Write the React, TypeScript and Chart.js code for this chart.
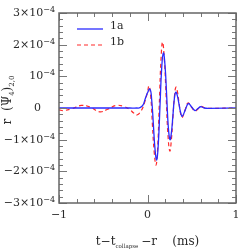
import React, { useEffect, useRef } from "react";
import { Chart, registerables } from "chart.js";

Chart.register(...registerables);

// values in units of 1e-4
const UNIT = 1e-4;
const seriesLabels = ["1a", "1b"];

const tA = [-1, -0.5, -0.2, -0.12, -0.085, -0.05, -0.028, 0, 0.028, 0.047, 0.066, 0.085, 0.104, 0.122, 0.141, 0.16, 0.179, 0.198, 0.217, 0.235, 0.254, 0.27, 0.287, 0.303, 0.319, 0.337, 0.356, 0.375, 0.393, 0.427, 0.461, 0.499, 0.537, 0.569, 0.601, 0.64, 0.7, 1];
const yA = [0, 0, 0, 0, 0.01, 0.1, 0.27, 0.48, 0.6, 0.27, -0.5, -1.3, -1.64, -1.14, 0.05, 1.24, 1.74, 1.34, 0.37, -0.6, -1.0, -0.78, -0.25, 0.28, 0.5, 0.39, 0.12, -0.15, -0.26, -0.06, 0.14, 0.03, -0.08, -0.02, 0.04, 0, -0.01, 0];

const tB = [-1, -0.95, -0.85, -0.75, -0.65, -0.54, -0.45, -0.355, -0.27, -0.2, -0.16, -0.12, -0.07, -0.03, 0, 0.017, 0.037, 0.056, 0.076, 0.096, 0.114, 0.133, 0.152, 0.17, 0.19, 0.21, 0.23, 0.252, 0.27, 0.287, 0.304, 0.321, 0.339, 0.357, 0.374, 0.391, 0.424, 0.458, 0.497, 0.536, 0.57, 0.604, 0.65, 0.72, 1];
const yB = [-0.06, -0.08, -0.02, 0.08, 0.03, -0.12, -0.04, 0.08, 0.05, -0.05, -0.15, -0.22, -0.08, 0.2, 0.5, 0.7, 0.35, -0.55, -1.4, -1.8, -1.3, 0.1, 1.5, 2.08, 1.55, 0.4, -0.8, -1.36, -1.0, -0.3, 0.35, 0.66, 0.5, 0.14, -0.18, -0.3, -0.07, 0.16, 0.03, -0.1, -0.03, 0.05, 0, -0.01, 0];

const xMinorStep = 0.2;
const yMinorStep = 0.2e-4;

const SERIF = "'DejaVu Serif', 'Liberation Serif', serif";
const TEXT = "#2a2a2a";

function yMantissa(v: number): string {
  const n = Math.round(v / UNIT);
  if (n === 0) return "0";
  if (n === 1) return "10";
  const s = n < 0 ? "\u2212" + Math.abs(n) : String(n);
  return s + "\u00D710";
}

const decoPlugin = {
  id: "deco",
  afterDraw(chart: any) {
    const { ctx, chartArea: a, scales } = chart;
    const xs = scales.x;
    const ys = scales.y;
    ctx.save();
    // ticks
    ctx.strokeStyle = "#777";
    ctx.lineWidth = 1;
    ctx.beginPath();
    for (let i = -5; i <= 5; i++) {
      const px = Math.round(xs.getPixelForValue(i * xMinorStep)) + 0.5;
      const len = i % 5 === 0 ? 8 : 4;
      ctx.moveTo(px, a.bottom);
      ctx.lineTo(px, a.bottom - len);
      ctx.moveTo(px, a.top);
      ctx.lineTo(px, a.top + len);
    }
    for (let j = -15; j <= 15; j++) {
      const py = Math.round(ys.getPixelForValue(j * yMinorStep)) + 0.5;
      const len = j % 5 === 0 ? 8 : 4;
      ctx.moveTo(a.left, py);
      ctx.lineTo(a.left + len, py);
      ctx.moveTo(a.right, py);
      ctx.lineTo(a.right - len, py);
    }
    ctx.stroke();
    // frame
    ctx.strokeStyle = "#666";
    ctx.lineWidth = 1.5;
    ctx.strokeRect(a.left, a.top, a.right - a.left, a.bottom - a.top);

    // y tick labels
    ctx.fillStyle = TEXT;
    ctx.textBaseline = "middle";
    ys.ticks.forEach((tk: any) => {
      const v = tk.value;
      const py = ys.getPixelForValue(v);
      const n = Math.round(v / UNIT);
      const right = a.left - 4;
      if (n === 0) {
        ctx.font = `11px ${SERIF}`;
        ctx.textAlign = "right";
        ctx.fillText("0", right - 14, py);
        return;
      }
      ctx.font = `8px ${SERIF}`;
      ctx.textAlign = "right";
      const sup = "\u22124";
      const sw = ctx.measureText(sup).width;
      ctx.fillText(sup, right, py - 3);
      ctx.font = `11px ${SERIF}`;
      ctx.fillText(yMantissa(v), right - sw, py);
    });

    // legend
    ctx.textBaseline = "middle";
    ctx.textAlign = "left";
    ctx.font = `11px ${SERIF}`;
    chart.data.datasets.forEach((ds: any, k: number) => {
      const y = a.top + 16 + k * 16;
      ctx.strokeStyle = ds.borderColor;
      ctx.lineWidth = ds.borderWidth;
      ctx.setLineDash(ds.borderDash || []);
      ctx.beginPath();
      ctx.moveTo(a.left + 18, y);
      ctx.lineTo(a.left + 44, y);
      ctx.stroke();
      ctx.setLineDash([]);
      ctx.fillStyle = TEXT;
      ctx.fillText(ds.label, a.left + 51, y - 3);
    });

    // x title
    ctx.fillStyle = TEXT;
    ctx.textBaseline = "alphabetic";
    ctx.textAlign = "left";
    const big = `12px ${SERIF}`;
    const small = `5.5px ${SERIF}`;
    const partsX: [string, string, number, number][] = [
      ["t\u2212t", big, 0, 0],
      ["collapse", small, 3, 3],
      ["\u2212r    (ms)", big, 0, 0],
    ];
    let total = 0;
    partsX.forEach(([s, f, , gap]) => {
      ctx.font = f;
      total += ctx.measureText(s).width + gap;
    });
    let x = (a.left + a.right) / 2 - total / 2;
    const by = 245;
    partsX.forEach(([s, f, dy, gap]) => {
      ctx.font = f;
      ctx.fillText(s, x, by + dy);
      x += ctx.measureText(s).width + gap;
    });

    // y title
    const partsY: [string, string, number, number][] = [
      ["r  (\u03A8", big, 0, 0],
      ["4", `7px ${SERIF}`, 3, 0],
      [")", big, 0, 0],
      ["2,0", `7px ${SERIF}`, 3, 0],
    ];
    total = 0;
    partsY.forEach(([s, f]) => {
      ctx.font = f;
      total += ctx.measureText(s).width;
    });
    ctx.translate(11, 100);
    ctx.rotate(-Math.PI / 2);
    x = -total / 2;
    partsY.forEach(([s, f, dy]) => {
      ctx.font = f;
      ctx.fillText(s, x, dy);
      x += ctx.measureText(s).width;
    });
    ctx.restore();
  },
};

export default function App() {
  const ref = useRef<HTMLCanvasElement | null>(null);
  useEffect(() => {
    if (!ref.current) return;
    const chart = new Chart(ref.current, {
      type: "line",
      data: {
        datasets: [
          {
            label: seriesLabels[0],
            data: tA.map((t, i) => ({ x: t, y: yA[i] * UNIT })),
            borderColor: "#2a2aff",
            borderWidth: 1.3,
            pointRadius: 0,
            tension: 0.45,
            fill: false,
          },
          {
            label: seriesLabels[1],
            data: tB.map((t, i) => ({ x: t, y: yB[i] * UNIT })),
            borderColor: "#ff2a2a",
            borderWidth: 1.2,
            borderDash: [4, 3],
            pointRadius: 0,
            tension: 0.45,
            fill: false,
          },
        ],
      },
      options: {
        animation: false,
        responsive: false,
        devicePixelRatio: 1,
        layout: { padding: { top: 13, right: 13, left: 0, bottom: 0 } },
        plugins: { legend: { display: false }, tooltip: { enabled: false } },
        scales: {
          x: {
            type: "linear",
            min: -1,
            max: 1,
            grid: { display: false, drawTicks: false },
            border: { display: false },
            ticks: {
              stepSize: 1,
              padding: 6,
              color: TEXT,
              font: { family: SERIF, size: 11 },
              callback: (v: any) => {
                const n = Math.round(Number(v));
                return n < 0 ? "\u2212" + Math.abs(n) : String(n);
              },
              maxRotation: 0,
            },
            afterFit: (s: any) => {
              s.height = 46;
            },
          },
          y: {
            type: "linear",
            min: -3e-4,
            max: 3e-4,
            grid: { display: false, drawTicks: false },
            border: { display: false },
            ticks: {
              stepSize: 1e-4,
              display: false,
            },
            afterFit: (s: any) => {
              s.width = 59;
            },
          },
        },
      },
      plugins: [decoPlugin],
    });
    return () => chart.destroy();
  }, []);
  return (
    <div style={{ position: "fixed", left: 0, top: 0, width: 249, height: 249, background: "#fff" }}>
      <canvas ref={ref} width={249} height={249} />
    </div>
  );
}
